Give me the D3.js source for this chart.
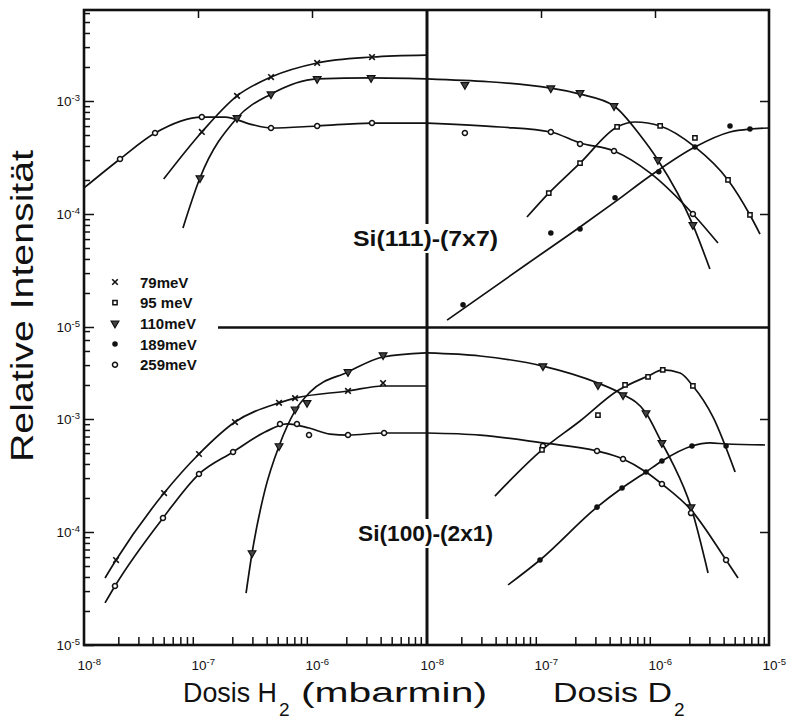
<!DOCTYPE html>
<html>
<head>
<meta charset="utf-8">
<script src="https://cdnjs.cloudflare.com/ajax/libs/d3/7.8.5/d3.min.js"></script>
<style>
  body { margin: 0; background: #fff; }
  svg { display: block; }
  text { font-family: "Liberation Sans", Arial, sans-serif; fill: #111; }
</style>
</head>
<body>
<svg id="chart" width="800" height="727"></svg>
<script>
// ---- data (dose in mbar·min, relative intensity) ----
const energies = ['79meV', '95 meV', '110meV', '189meV', '259meV'];
const yLabelDecades = [1e-5, 1e-4, 1e-3];
const xLabelsH2 = [1e-8, 1e-7, 1e-6];
const xLabelsD2 = [1e-8, 1e-7, 1e-6, 1e-5];

// Si(111)-(7x7), H2 dose
const si111H2_79_curve = [[5.0e-8,2.04e-4],[1.08e-7,5.32e-4],[2.20e-7,1.11e-3],[4.37e-7,1.63e-3],[1.11e-6,2.17e-3],[3.36e-6,2.45e-3],[1e-5,2.55e-3]];
const si111H2_79_marks = [[1.08e-7,5.32e-4],[2.20e-7,1.11e-3],[4.37e-7,1.63e-3],[1.11e-6,2.17e-3],[3.36e-6,2.45e-3]];
const si111H2_110_curve = [[7.38e-8,7.52e-5],[1.04e-7,2.08e-4],[2.20e-7,7.08e-4],[4.37e-7,1.15e-3],[1.11e-6,1.57e-3],[3.30e-6,1.60e-3],[1e-5,1.57e-3]];
const si111H2_110_marks = [[1.04e-7,2.08e-4],[2.20e-7,7.08e-4],[4.37e-7,1.15e-3],[1.11e-6,1.57e-3],[3.30e-6,1.60e-3]];
const si111H2_259_curve = [[1e-8,1.70e-4],[2.07e-8,3.07e-4],[4.20e-8,5.21e-4],[1.08e-7,7.21e-4],[1.73e-7,7.21e-4],[2.86e-7,6.25e-4],[4.37e-7,5.77e-4],[1.11e-6,6.01e-4],[3.36e-6,6.38e-4],[1e-5,6.38e-4]];
const si111H2_259_marks = [[2.07e-8,3.07e-4],[4.20e-8,5.21e-4],[1.08e-7,7.21e-4],[4.37e-7,5.77e-4],[1.11e-6,6.01e-4],[3.36e-6,6.38e-4]];

// Si(111)-(7x7), D2 dose
const si111D2_110_curve = [[1e-8,1.57e-3],[1.22e-7,1.30e-3],[2.20e-7,1.15e-3],[4.37e-7,9.04e-4],[7.38e-7,5.00e-4],[1.06e-6,3.01e-4],[2.15e-6,8.00e-5],[3.03e-6,3.26e-5]];
const si111D2_110_marks = [[2.15e-8,1.39e-3],[1.22e-7,1.30e-3],[2.20e-7,1.18e-3],[4.37e-7,9.04e-4],[1.06e-6,3.01e-4],[2.15e-6,8.00e-5]];
const si111D2_259_curve = [[1e-8,6.38e-4],[4.37e-8,5.89e-4],[1.22e-7,5.32e-4],[2.20e-7,4.25e-4],[4.37e-7,3.61e-4],[9.04e-7,2.31e-4],[2.15e-6,1.0e-4],[3.57e-6,5.53e-5]];
const si111D2_259_marks = [[2.15e-8,5.21e-4],[1.22e-7,5.32e-4],[2.20e-7,4.16e-4],[4.37e-7,3.61e-4],[2.15e-6,1.0e-4]];
const si111D2_95_curve = [[7.53e-8,9.40e-5],[1.17e-7,1.53e-4],[2.20e-7,2.82e-4],[4.65e-7,5.89e-4],[6.68e-7,6.52e-4],[1.11e-6,6.01e-4],[2.24e-6,3.92e-4],[4.37e-6,2.00e-4],[6.81e-6,9.80e-5],[8.34e-6,6.65e-5]];
const si111D2_95_marks = [[1.17e-7,1.53e-4],[2.20e-7,2.82e-4],[4.65e-7,5.89e-4],[1.11e-6,6.01e-4],[2.24e-6,4.71e-4],[4.37e-6,2.00e-4],[6.81e-6,9.80e-5]];
const si111D2_189_curve = [[1.50e-8,1.15e-5],[7.53e-8,3.61e-5],[2.20e-7,7.67e-5],[4.46e-7,1.28e-4],[9.04e-7,2.17e-4],[2.24e-6,3.92e-4],[4.55e-6,5.32e-4],[6.81e-6,5.65e-4],[1e-5,5.77e-4]];
const si111D2_189_marks = [[2.07e-8,1.57e-5],[1.22e-7,6.79e-5],[2.20e-7,7.36e-5],[4.46e-7,1.39e-4],[1.08e-6,2.36e-4],[2.24e-6,3.92e-4],[4.55e-6,6.01e-4],[6.81e-6,5.65e-4]];

// Si(100)-(2x1), H2 dose
const si100H2_79_curve = [[1.53e-8,3.92e-5],[1.91e-8,5.65e-5],[5.04e-8,2.21e-4],[1.02e-7,4.90e-4],[2.11e-7,9.40e-4],[5.14e-7,1.39e-3],[7.10e-7,1.53e-3],[2.07e-6,1.77e-3],[4.20e-6,1.96e-3],[1e-5,1.96e-3]];
const si100H2_79_marks = [[1.91e-8,5.65e-5],[5.04e-8,2.21e-4],[1.02e-7,4.90e-4],[2.11e-7,9.40e-4],[5.14e-7,1.39e-3],[7.10e-7,1.53e-3],[2.07e-6,1.77e-3],[4.20e-6,2.08e-3]];
const si100H2_110_curve = [[2.64e-7,2.88e-5],[2.98e-7,6.52e-5],[3.87e-7,2.36e-4],[5.14e-7,5.77e-4],[7.10e-7,1.18e-3],[9.60e-7,1.73e-3],[2.07e-6,2.61e-3],[4.20e-6,3.54e-3],[1e-5,3.84e-3]];
const si100H2_110_marks = [[2.98e-7,6.52e-5],[5.14e-7,5.77e-4],[7.10e-7,1.22e-3],[9.04e-7,1.39e-3],[2.07e-6,2.61e-3],[4.20e-6,3.68e-3]];
const si100H2_259_curve = [[1.53e-8,2.36e-5],[1.87e-8,3.33e-5],[4.93e-8,1.33e-4],[1.02e-7,3.26e-4],[2.03e-7,5.11e-4],[3.87e-7,7.67e-4],[6.04e-7,9.04e-4],[9.42e-7,8.32e-4],[1.44e-6,7.36e-4],[2.07e-6,7.21e-4],[4.29e-6,7.52e-4],[1e-5,7.52e-4]];
const si100H2_259_marks = [[1.87e-8,3.33e-5],[4.93e-8,1.33e-4],[1.02e-7,3.26e-4],[2.03e-7,5.11e-4],[5.24e-7,9.04e-4],[7.38e-7,9.04e-4],[9.42e-7,7.21e-4],[2.07e-6,7.21e-4],[4.29e-6,7.52e-4]];

// Si(100)-(2x1), D2 dose
const si100D2_110_curve = [[1e-8,3.84e-3],[2.92e-8,3.61e-3],[1.04e-7,2.94e-3],[3.16e-7,2.08e-3],[4.93e-7,1.70e-3],[8.34e-7,1.13e-3],[1.15e-6,6.14e-4],[1.41e-6,4.16e-4],[2.07e-6,1.66e-4],[2.92e-6,4.34e-5]];
const si100D2_110_marks = [[1.04e-7,2.94e-3],[3.16e-7,2.00e-3],[5.24e-7,1.63e-3],[8.34e-7,1.13e-3],[1.15e-6,6.14e-4],[2.07e-6,1.66e-4]];
const si100D2_259_curve = [[1e-8,7.52e-4],[2.92e-8,7.21e-4],[1.04e-7,6.14e-4],[3.10e-7,5.21e-4],[5.24e-7,4.43e-4],[8.34e-7,3.40e-4],[1.15e-6,2.66e-4],[2.07e-6,1.57e-4],[4.20e-6,5.65e-5],[5.35e-6,3.92e-5]];
const si100D2_259_marks = [[1.04e-7,5.77e-4],[3.10e-7,5.21e-4],[5.24e-7,4.43e-4],[1.15e-6,2.66e-4],[2.07e-6,1.47e-4],[4.20e-6,5.65e-5]];
const si100D2_95_curve = [[3.94e-8,2.08e-4],[1.02e-7,5.32e-4],[2.20e-7,9.60e-4],[4.65e-7,1.77e-3],[8.69e-7,2.40e-3],[1.17e-6,2.72e-3],[1.66e-6,2.55e-3],[2.15e-6,1.96e-3],[3.23e-6,1.04e-3],[5.04e-6,3.40e-4]];
const si100D2_95_marks = [[1.02e-7,5.32e-4],[3.16e-7,1.08e-3],[5.46e-7,2.00e-3],[8.69e-7,2.36e-3],[1.17e-6,2.72e-3],[2.15e-6,1.96e-3]];
const si100D2_189_curve = [[5.14e-8,3.40e-5],[9.80e-8,5.65e-5],[3.10e-7,1.66e-4],[5.14e-7,2.45e-4],[8.34e-7,3.40e-4],[1.15e-6,4.25e-4],[2.11e-6,5.77e-4],[3.03e-6,6.14e-4],[4.20e-6,6.01e-4],[9.23e-6,5.89e-4]];
const si100D2_189_marks = [[9.80e-8,5.65e-5],[3.10e-7,1.66e-4],[5.14e-7,2.45e-4],[8.34e-7,3.40e-4],[1.15e-6,4.25e-4],[2.11e-6,5.77e-4],[4.20e-6,5.77e-4]];

// ---- series table built from the arrays ----
const seriesList = [
  {panel: 0, gas: 'H2', e: '79meV',  curve: si111H2_79_curve,  marks: si111H2_79_marks},
  {panel: 0, gas: 'H2', e: '110meV', curve: si111H2_110_curve, marks: si111H2_110_marks},
  {panel: 0, gas: 'H2', e: '259meV', curve: si111H2_259_curve, marks: si111H2_259_marks},
  {panel: 0, gas: 'D2', e: '110meV', curve: si111D2_110_curve, marks: si111D2_110_marks},
  {panel: 0, gas: 'D2', e: '259meV', curve: si111D2_259_curve, marks: si111D2_259_marks},
  {panel: 0, gas: 'D2', e: '95 meV', curve: si111D2_95_curve,  marks: si111D2_95_marks},
  {panel: 0, gas: 'D2', e: '189meV', curve: si111D2_189_curve, marks: si111D2_189_marks},
  {panel: 1, gas: 'H2', e: '79meV',  curve: si100H2_79_curve,  marks: si100H2_79_marks},
  {panel: 1, gas: 'H2', e: '110meV', curve: si100H2_110_curve, marks: si100H2_110_marks},
  {panel: 1, gas: 'H2', e: '259meV', curve: si100H2_259_curve, marks: si100H2_259_marks},
  {panel: 1, gas: 'D2', e: '110meV', curve: si100D2_110_curve, marks: si100D2_110_marks},
  {panel: 1, gas: 'D2', e: '259meV', curve: si100D2_259_curve, marks: si100D2_259_marks},
  {panel: 1, gas: 'D2', e: '95 meV', curve: si100D2_95_curve,  marks: si100D2_95_marks},
  {panel: 1, gas: 'D2', e: '189meV', curve: si100D2_189_curve, marks: si100D2_189_marks}
];

// ---- layout ----
const frame = {left: 84, mid: 427, right: 769, top: 10, bottom: 645};
const decadePx = 113;
const panels = [
  {name: 'Si(111)-(7x7)', y0: 10,  y1: 327, lx: 353, ly: 246, lw: 145},
  {name: 'Si(100)-(2x1)', y0: 328, y1: 645, lx: 358, ly: 541, lw: 135}
];

const svg = d3.select('#chart');

//x scales, one per half
const xScales = {
  H2: d3.scaleLog().domain([1e-8, 1e-5]).range([frame.left, frame.mid - 1]),
  D2: d3.scaleLog().domain([1e-8, 1e-5]).range([frame.mid, frame.right])
};
//y scales, one per panel, same px per decade
panels.forEach(p => {
  const top = 1e-5 * Math.pow(10, (p.y1 - p.y0) / decadePx);
  p.y = d3.scaleLog().domain([1e-5, top]).range([p.y1, p.y0]);
});

//minor log ticks 2..9 in each decade
function minorTicks(lo, hi) {
  const out = [];
  for (let e = -8; e <= -2; e++) {
    for (let m = 2; m <= 9; m++) {
      const v = m * Math.pow(10, e);
      if (v > lo && v < hi) out.push(v);
    }
  }
  return out;
}

//write "10" with a raised exponent
function powerLabel(sel) {
  sel.each(function(d) {
    const t = d3.select(this).text(null);
    t.append('tspan').text('10');
    t.append('tspan').attr('dy', '-0.5em').attr('font-size', '9.5px')
      .text('-' + Math.abs(Math.round(Math.log10(d))));
  });
}

const axesG = svg.append('g').attr('class', 'axes')
  .attr('stroke-width', 1.5);

panels.forEach(p => {
  const dom = p.y.domain();
  //left major ticks + labels
  axesG.append('g')
    .attr('transform', `translate(${frame.left},0)`)
    .call(d3.axisLeft(p.y).tickValues(yLabelDecades).tickSize(-10).tickPadding(4).tickFormat(() => ''))
    .call(g => g.select('.domain').remove())
    .call(g => g.selectAll('.tick text').attr('font-size', '13.5px').attr('font-family', null).call(powerLabel))
    .call(g => g.selectAll('.tick line').attr('stroke', '#111'));
  //left minor ticks
  axesG.append('g')
    .attr('transform', `translate(${frame.left},0)`)
    .call(d3.axisLeft(p.y).tickValues(minorTicks(dom[0], dom[1])).tickSize(-6).tickFormat(''))
    .call(g => g.select('.domain').remove())
    .call(g => g.selectAll('.tick line').attr('stroke', '#111'));
  //right side major ticks
  axesG.append('g')
    .attr('transform', `translate(${frame.right},0)`)
    .call(d3.axisRight(p.y).tickValues([1e-4, 1e-3]).tickSize(-9).tickFormat(''))
    .call(g => g.select('.domain').remove())
    .call(g => g.selectAll('.tick line').attr('stroke', '#111'));
});

['H2', 'D2'].forEach(gas => {
  const x = xScales[gas];
  //bottom minor ticks
  axesG.append('g')
    .attr('transform', `translate(0,${frame.bottom})`)
    .call(d3.axisBottom(x).tickValues(minorTicks(1e-8, 1e-5)).tickSize(-8).tickFormat(''))
    .call(g => g.select('.domain').remove())
    .call(g => g.selectAll('.tick line').attr('stroke', '#111'));
  //bottom labels
  axesG.append('g')
    .attr('transform', `translate(0,${frame.bottom})`)
    .call(d3.axisBottom(x).tickValues(gas === 'H2' ? xLabelsH2 : xLabelsD2).tickSize(0).tickPadding(15).tickFormat(() => ''))
    .call(g => g.select('.domain').remove())
    .call(g => g.selectAll('.tick text').attr('font-size', '13.5px').attr('font-family', null)
      .attr('text-anchor', 'start').attr('x', -7).call(powerLabel));
  //top ticks
  axesG.append('g')
    .attr('transform', `translate(0,${frame.top})`)
    .call(d3.axisTop(x).tickValues([1e-7, 1e-6]).tickSize(-8).tickFormat(''))
    .call(g => g.select('.domain').remove())
    .call(g => g.selectAll('.tick line').attr('stroke', '#111'));
});

//frame lines
const frameG = svg.append('g').attr('stroke', '#111').attr('stroke-width', 2.6).attr('fill', 'none');
frameG.append('rect')
  .attr('x', frame.left).attr('y', frame.top)
  .attr('width', frame.right - frame.left).attr('height', frame.bottom - frame.top);
frameG.append('line')
  .attr('x1', frame.mid).attr('x2', frame.mid).attr('y1', frame.top).attr('y2', frame.bottom)
  .attr('stroke-width', 3);
frameG.append('line')
  .attr('x1', 218).attr('x2', frame.right).attr('y1', 327.5).attr('y2', 327.5);

//curves
const curveG = svg.append('g').attr('fill', 'none').attr('stroke', '#111').attr('stroke-width', 1.7);
seriesList.forEach(s => {
  const x = xScales[s.gas], y = panels[s.panel].y;
  const line = d3.line().x(d => x(d[0])).y(d => y(d[1])).curve(d3.curveMonotoneX);
  curveG.append('path').attr('d', line(s.curve));
});

//marker symbols per energy
function drawMark(g, e) {
  if (e === '79meV') {
    g.append('path').attr('d', 'M-2.8,-2.8L2.8,2.8M-2.8,2.8L2.8,-2.8')
      .attr('stroke', '#111').attr('stroke-width', 1.6).attr('fill', 'none');
  } else if (e === '95 meV') {
    g.append('path').attr('d', d3.symbol(d3.symbolSquare, 18)())
      .attr('stroke', '#111').attr('stroke-width', 1.5).attr('fill', '#fff');
  } else if (e === '110meV') {
    g.append('path').attr('d', d3.symbol(d3.symbolTriangle, 26)())
      .attr('transform', 'rotate(180)')
      .attr('stroke', '#111').attr('stroke-width', 1.2).attr('fill', '#444');
  } else if (e === '189meV') {
    g.append('path').attr('d', d3.symbol(d3.symbolCircle, 24)())
      .attr('fill', '#111');
  } else {
    g.append('path').attr('d', d3.symbol(d3.symbolCircle, 20)())
      .attr('stroke', '#111').attr('stroke-width', 1.5).attr('fill', '#fff');
  }
}

const markG = svg.append('g');
seriesList.forEach(s => {
  const x = xScales[s.gas], y = panels[s.panel].y;
  markG.selectAll(null)
    .data(s.marks)
    .enter()
    .append('g')
    .attr('transform', d => `translate(${x(d[0])},${y(d[1])})`)
    .each(function() { drawMark(d3.select(this), s.e); });
});

//panel labels, with a white gap cut into the middle line
panels.forEach(p => {
  const g = svg.append('g');
  const t = g.append('text')
    .attr('x', p.lx).attr('y', p.ly)
    .attr('font-size', '22px').attr('font-weight', 'bold')
    .attr('textLength', p.lw).attr('lengthAdjust', 'spacingAndGlyphs')
    .text(p.name);
  const bb = t.node().getBBox();
  g.insert('rect', 'text')
    .attr('x', bb.x - 3).attr('y', bb.y - 2)
    .attr('width', bb.width + 6).attr('height', bb.height + 4)
    .attr('fill', '#fff');
});

//legend
const legend = svg.append('g').attr('transform', 'translate(115,282)');
energies.forEach((e, i) => {
  const row = legend.append('g').attr('transform', `translate(0,${i * 20.7})`);
  drawMark(row, e);
  row.append('text')
    .attr('x', 25).attr('y', 5.5)
    .attr('font-size', '15px').attr('font-weight', 'bold')
    .text(e);
});

//y title
svg.append('text')
  .attr('transform', 'translate(33,306) rotate(-90)')
  .attr('text-anchor', 'middle')
  .attr('font-size', '31px')
  .attr('textLength', 312).attr('lengthAdjust', 'spacingAndGlyphs')
  .text('Relative Intensität');

//x title pieces
const xt = svg.append('g').attr('font-size', '27px');
xt.append('text').attr('x', 183).attr('y', 702)
  .attr('textLength', 94).attr('lengthAdjust', 'spacingAndGlyphs').text('Dosis H');
xt.append('text').attr('x', 279).attr('y', 716).attr('font-size', '19px').text('2');
xt.append('text').attr('x', 301).attr('y', 702)
  .attr('textLength', 186).attr('lengthAdjust', 'spacingAndGlyphs').text('(mbarmin)');
xt.append('text').attr('x', 553).attr('y', 702)
  .attr('textLength', 119).attr('lengthAdjust', 'spacingAndGlyphs').text('Dosis D');
xt.append('text').attr('x', 674).attr('y', 716).attr('font-size', '19px').text('2');
</script>
</body>
</html>
